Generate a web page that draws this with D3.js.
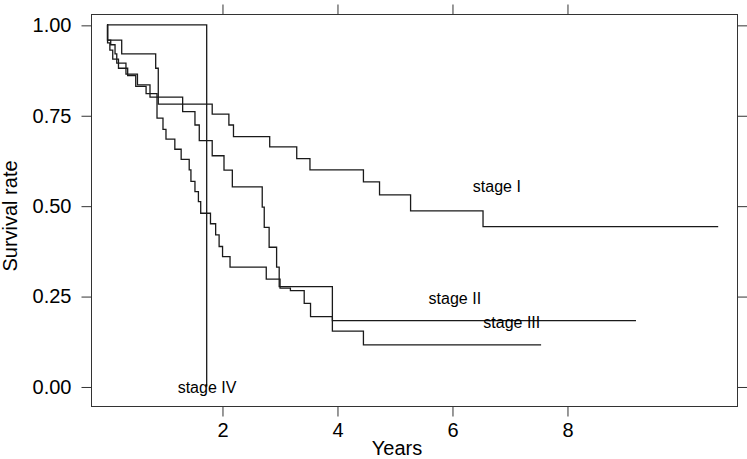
<!DOCTYPE html>
<html>
<head>
<meta charset="utf-8">
<script src="https://cdn.jsdelivr.net/npm/d3@7"></script>
<style>
  html, body { margin: 0; padding: 0; background: #fff; }
  svg text { font-family: "Liberation Sans", Arial, Helvetica, sans-serif; fill: #000; }
</style>
</head>
<body>
<svg id="chart" width="747" height="459"></svg>
<script>
// ---- data ----
const stageITimes = [0, 0.01, 0.256, 0.847, 0.892, 1.83, 2.12, 2.20, 2.83, 3.30, 3.53, 4.46, 4.74, 5.28, 6.54, 10.63];
const stageISurv  = [1.0, 0.958, 0.920, 0.880, 0.781, 0.753, 0.723, 0.691, 0.6625, 0.630, 0.599, 0.566, 0.530, 0.4855, 0.442, 0.442];

const stageIITimes = [0, 0.01, 0.065, 0.14, 0.17, 0.33, 0.53, 0.748, 1.316, 1.53, 1.605, 1.83, 2.035, 2.18, 2.70, 2.735, 2.82, 2.95, 2.995, 3.92, 4.46, 7.55];
const stageIISurv  = [1, 0.958, 0.945, 0.920, 0.894, 0.864, 0.834, 0.800, 0.760, 0.723, 0.680, 0.638, 0.598, 0.552, 0.496, 0.440, 0.385, 0.330, 0.276, 0.153, 0.115, 0.115];

const stageIIITimes = [0, 0.01, 0.05, 0.10, 0.20, 0.36, 0.50, 0.68, 0.87, 0.974, 1.026, 1.18, 1.29, 1.43, 1.46, 1.53, 1.59, 1.63, 1.80, 1.89, 1.95, 2.01, 2.14, 2.77, 3.01, 3.19, 3.43, 3.54, 3.92, 9.2];
const stageIIISurv  = [1, 0.95, 0.93, 0.905, 0.88, 0.86, 0.83, 0.81, 0.742, 0.711, 0.684, 0.656, 0.628, 0.599, 0.567, 0.539, 0.511, 0.479, 0.450, 0.419, 0.387, 0.359, 0.330, 0.297, 0.272, 0.265, 0.230, 0.193, 0.182, 0.182];

const stageIVTimes = [0, 1.734];
const stageIVSurv  = [1, 0];

const seriesNames = ["stage I", "stage II", "stage III", "stage IV"];
// label anchor points in data units (time, survival)
const labelTimes = [6.78, 6.05, 7.04, 1.74];
const labelSurv  = [0.537, 0.228, 0.162, -0.018];

const xTicks = [2, 4, 6, 8];
const yTicks = [0, 0.25, 0.5, 0.75, 1.0];
const xTitle = "Years";
const yTitle = "Survival rate";

// ---- layout ----
const svg = d3.select("#chart");
const panel = { left: 91, right: 737, top: 14, bottom: 406 };

const x = d3.scaleLinear().domain([-0.278, 10.957]).range([panel.left, panel.right]);
const y = d3.scaleLinear().domain([-0.054, 1.030]).range([panel.bottom, panel.top]);

const lineColor = "#1a1a1a";
const boxColor = "#333";

// panel box
svg.append("rect")
  .attr("x", panel.left + 0.5).attr("y", panel.top + 0.5)
  .attr("width", panel.right - panel.left).attr("height", panel.bottom - panel.top)
  .attr("fill", "none").attr("stroke", boxColor).attr("stroke-width", 1);

function styleAxis(g) {
  g.select(".domain").remove();
  g.selectAll(".tick line").attr("stroke", boxColor).attr("stroke-width", 1);
  g.selectAll(".tick text").attr("font-size", 20).attr("fill", "#000");
}

// bottom axis with labels
svg.append("g")
  .attr("transform", `translate(0.5,${panel.bottom + 0.5})`)
  .call(d3.axisBottom(x).tickValues(xTicks).tickSize(10).tickPadding(6).tickFormat(d3.format("d")))
  .call(styleAxis);
// top axis ticks only
svg.append("g")
  .attr("transform", `translate(0.5,${panel.top + 0.5})`)
  .call(d3.axisTop(x).tickValues(xTicks).tickSize(10).tickFormat(""))
  .call(styleAxis);
// left axis with labels
svg.append("g")
  .attr("transform", `translate(${panel.left + 0.5},0.5)`)
  .call(d3.axisLeft(y).tickValues(yTicks).tickSize(10).tickPadding(10).tickFormat(d3.format(".2f")))
  .call(styleAxis);
// right axis ticks only
svg.append("g")
  .attr("transform", `translate(${panel.right + 0.5},0.5)`)
  .call(d3.axisRight(y).tickValues(yTicks).tickSize(10).tickFormat(""))
  .call(styleAxis);

// axis titles
svg.append("text")
  .attr("x", 397).attr("y", 455)
  .attr("text-anchor", "middle").attr("font-size", 20)
  .text(xTitle);
svg.append("text")
  .attr("transform", `translate(17,${(panel.top + panel.bottom) / 2 + 6}) rotate(-90)`)
  .attr("text-anchor", "middle").attr("font-size", 20)
  .text(yTitle);

// curves
const curves = [
  [stageITimes, stageISurv],
  [stageIITimes, stageIISurv],
  [stageIIITimes, stageIIISurv],
  [stageIVTimes, stageIVSurv]
];
const line = d3.line()
  .x(d => x(d[0]))
  .y(d => y(d[1]))
  .curve(d3.curveStepAfter);

const clip = svg.append("clipPath").attr("id", "pclip")
  .append("rect").attr("x", panel.left).attr("y", panel.top)
  .attr("width", panel.right - panel.left).attr("height", panel.bottom - panel.top);

const g = svg.append("g").attr("clip-path", "url(#pclip)");
curves.forEach(([ts, ss]) => {
  g.append("path")
    .datum(ts.map((t, i) => [t, ss[i]]))
    .attr("d", line)
    .attr("fill", "none")
    .attr("stroke", lineColor)
    .attr("stroke-width", 1.3);
});

// labels
seriesNames.forEach((name, i) => {
  svg.append("text")
    .attr("x", x(labelTimes[i]))
    .attr("y", y(labelSurv[i]))
    .attr("text-anchor", "middle")
    .attr("font-size", 16)
    .text(name);
});
</script>
</body>
</html>
